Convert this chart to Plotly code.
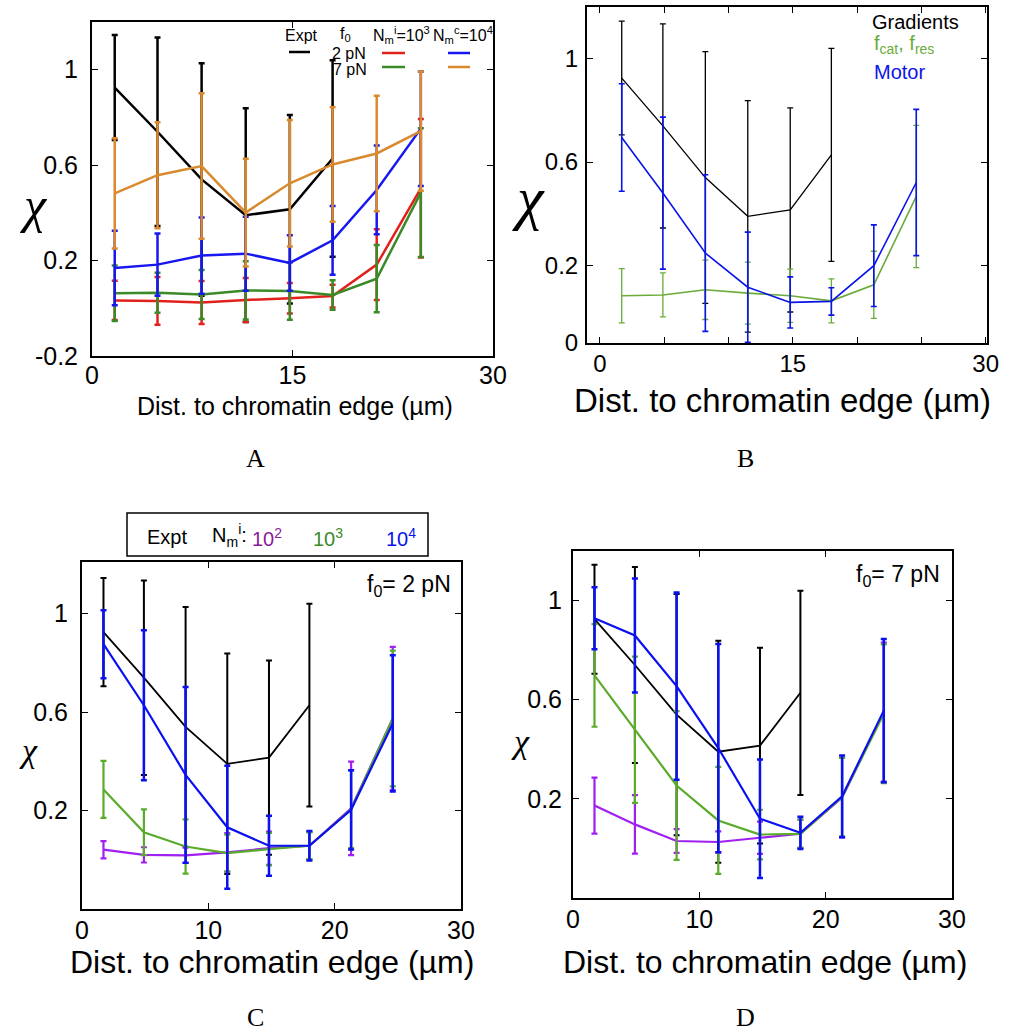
import plotly.graph_objects as go

# ---------------- data ----------------
x_pos = [1.7, 4.9, 8.2, 11.5, 14.8, 18.0, 21.3, 24.6]
x_expt = [1.7, 4.9, 8.2, 11.5, 14.8, 18.0]
expt_chi = [0.925, 0.74, 0.54, 0.39, 0.415, 0.628]
expt_err = [0.22, 0.395, 0.487, 0.448, 0.395, 0.412]

# Panel A
a_red = [0.033, 0.031, 0.024, 0.035, 0.042, 0.051, 0.183, 0.503]
a_red_err = [0.082, 0.100, 0.090, 0.092, 0.064, 0.048, 0.148, 0.290]
a_green = [0.063, 0.065, 0.058, 0.075, 0.072, 0.056, 0.124, 0.485]
a_green_err = [0.116, 0.084, 0.103, 0.122, 0.120, 0.062, 0.141, 0.270]
a_blue = [0.169, 0.183, 0.221, 0.229, 0.190, 0.285, 0.496, 0.753]
a_blue_err = [0.156, 0.130, 0.160, 0.155, 0.116, 0.144, 0.186, 0.240]
a_orange = [0.482, 0.558, 0.596, 0.401, 0.524, 0.603, 0.649, 0.743]
a_orange_err = [0.231, 0.222, 0.305, 0.226, 0.265, 0.240, 0.242, 0.250]

# Panel B
b_green = [0.083, 0.086, 0.106, 0.093, 0.083, 0.063, 0.125, 0.467]
b_green_err = [0.105, 0.085, 0.115, 0.120, 0.103, 0.085, 0.130, 0.275]
b_blue = [0.695, 0.480, 0.248, 0.116, 0.057, 0.061, 0.199, 0.521]
b_blue_err = [0.208, 0.294, 0.303, 0.213, 0.099, 0.053, 0.158, 0.283]

# Panel C (f0 = 2 pN)
c_purple = [0.041, 0.020, 0.018, 0.030, 0.047, 0.057, 0.209, 0.574]
c_purple_err = [0.035, 0.031, 0.031, 0.078, 0.068, 0.056, 0.190, 0.291]
c_green = [0.286, 0.112, 0.054, 0.027, 0.043, 0.057, 0.205, 0.574]
c_green_err = [0.116, 0.093, 0.110, 0.075, 0.066, 0.054, 0.158, 0.276]
c_blue = [0.876, 0.628, 0.345, 0.132, 0.057, 0.057, 0.203, 0.554]
c_blue_err = [0.138, 0.305, 0.357, 0.250, 0.122, 0.060, 0.161, 0.277]

# Panel D (f0 = 7 pN)
d_purple = [0.173, 0.097, 0.030, 0.026, 0.043, 0.059, 0.205, 0.550]
d_purple_err = [0.113, 0.118, 0.048, 0.043, 0.065, 0.057, 0.160, 0.280]
d_green = [0.698, 0.479, 0.254, 0.113, 0.056, 0.059, 0.207, 0.543]
d_green_err = [0.207, 0.295, 0.300, 0.216, 0.100, 0.057, 0.158, 0.280]
d_blue = [0.929, 0.859, 0.655, 0.405, 0.120, 0.063, 0.210, 0.556]
d_blue_err = [0.125, 0.230, 0.378, 0.420, 0.239, 0.065, 0.165, 0.289]

# ---------------- styling ----------------
W, H = 1014, 1032
SANS = "Liberation Sans, Arial, sans-serif"
SERIF = "Liberation Serif, Times New Roman, serif"


def px(x):
    return x / W


def py(y):
    return 1 - y / H


BLACK = "#000000"
A_RED, A_GREEN, A_BLUE, A_ORANGE = "#e3211c", "#3a8a28", "#1717f2", "#d98a2e"
B_GREEN, B_BLUE = "#6aab3a", "#0a14e8"
CD_PURPLE, CD_GREEN, CD_BLUE = "#a020f0", "#5aab2a", "#0a10f0"

fig = go.Figure()


def add(xs, ys, err, color, ax, lw, et, ew):
    fig.add_trace(go.Scatter(
        x=xs, y=ys, mode="lines", xaxis="x" + ax, yaxis="y" + ax,
        line=dict(color=color, width=lw),
        error_y=dict(type="data", array=err, color=color, thickness=et, width=ew),
        showlegend=False, hoverinfo="x+y"))


# Panel A (axis suffix "")
add(x_expt, expt_chi, expt_err, BLACK, "", 2.5, 2.5, 3)
add(x_pos, a_red, a_red_err, A_RED, "", 2.5, 2.5, 3)
add(x_pos, a_green, a_green_err, A_GREEN, "", 2.5, 2.5, 3)
add(x_pos, a_blue, a_blue_err, A_BLUE, "", 2.5, 2.5, 3)
add(x_pos, a_orange, a_orange_err, A_ORANGE, "", 2.5, 2.5, 3)

# Panel B
add(x_expt, expt_chi, expt_err, BLACK, "2", 1.3, 1.3, 3)
add(x_pos, b_green, b_green_err, B_GREEN, "2", 1.6, 1.3, 3)
add(x_pos, b_blue, b_blue_err, B_BLUE, "2", 1.6, 1.6, 3)

# Panel C
add(x_expt, expt_chi, expt_err, BLACK, "3", 1.8, 2, 3)
add(x_pos, c_purple, c_purple_err, CD_PURPLE, "3", 2.2, 2.2, 3)
add(x_pos, c_green, c_green_err, CD_GREEN, "3", 2.2, 2.2, 3)
add(x_pos, c_blue, c_blue_err, CD_BLUE, "3", 2.2, 2.5, 3)

# Panel D
add(x_expt, expt_chi, expt_err, BLACK, "4", 1.8, 2, 3)
add(x_pos, d_purple, d_purple_err, CD_PURPLE, "4", 2.2, 2.2, 3)
add(x_pos, d_green, d_green_err, CD_GREEN, "4", 2.2, 2.2, 3)
add(x_pos, d_blue, d_blue_err, CD_BLUE, "4", 2.2, 2.5, 3)

# panel boxes: left, right, top, bottom in pixels
boxes = {
    "": (92, 493, 22, 356),
    "2": (587, 987, 7, 343),
    "3": (82, 461, 562, 909),
    "4": (573, 952, 551, 898),
}


def axes(ax, xr, yr, xt, xtt, yt, ytt, fs, lw, ystand, xstand):
    l, r, t, b = boxes[ax]
    common = dict(showline=True, linecolor="black", linewidth=lw, mirror="ticks",
                  ticks="inside", ticklen=6, tickwidth=1.2, tickcolor="black",
                  showgrid=False, zeroline=False, automargin=False,
                  tickfont=dict(family=SANS, size=fs, color="black"))
    xa = dict(common, domain=[px(l), px(r)], range=xr, tickmode="array",
              tickvals=xt, ticktext=xtt, anchor="y" + ax, ticklabelstandoff=xstand)
    ya = dict(common, domain=[py(b), py(t)], range=yr, tickmode="array",
              tickvals=yt, ticktext=ytt, anchor="x" + ax, ticklabelstandoff=ystand)
    return {"xaxis" + ax: xa, "yaxis" + ax: ya}


lay = {}
lay.update(axes("", [0, 30], [-0.2, 1.2], [0, 15, 30], ["0", "15", "30"],
                [-0.2, 0.2, 0.6, 1], ["-0.2", "0.2", "0.6", "1"], 25, 2, 7, -4))
lay.update(axes("2", [-1, 30.1], [-0.1, 1.2], [0, 5, 10, 15, 20, 25, 30],
                ["0", "", "", "15", "", "", "30"],
                [-0.1, 0.2, 0.6, 1], ["0", "0.2", "0.6", "1"], 24, 2, 2, -2))
lay.update(axes("3", [0, 30], [-0.2, 1.21], [0, 10, 20, 30], ["0", "10", "20", "30"],
                [0.2, 0.6, 1], ["0.2", "0.6", "1"], 25, 2, 7, -2))
lay.update(axes("4", [0, 30], [-0.2, 1.2], [0, 10, 20, 30], ["0", "10", "20", "30"],
                [0.2, 0.6, 1], ["0.2", "0.6", "1"], 25, 2, 4, -2))

ann = []


def text(x, y, s, size, color="black", family=SANS, xanchor="center"):
    ann.append(dict(x=px(x), y=py(y), xref="paper", yref="paper", text=s,
                    showarrow=False, xanchor=xanchor, yanchor="middle",
                    font=dict(family=family, size=size, color=color)))


# axis titles
xtitle = "Dist. to chromatin edge (µm)"
text(295, 406, xtitle, 25)
text(782, 400, xtitle, 33)
text(272, 962, xtitle, 32)
text(765, 962, xtitle, 32)
text(34, 205, "<i>χ</i>", 50, family=SERIF)
text(528, 198, "<i>χ</i>", 60, family=SERIF)
text(28, 750, "<i>χ</i>", 34, family=SERIF)
text(520, 741, "<i>χ</i>", 34, family=SERIF)

# panel letters
text(255, 458, "A", 26, family=SERIF)
text(745, 458, "B", 26, family=SERIF)
text(255, 1017, "C", 26, family=SERIF)
text(745, 1017, "D", 26, family=SERIF)

# legend A
text(301, 36, "Expt", 16)
text(345, 35, "f<sub>0</sub>", 16)
text(401, 35, "N<sub>m</sub><sup>i</sup>=10<sup>3</sup>", 16)
text(463, 35, "N<sub>m</sub><sup>c</sup>=10<sup>4</sup>", 16)
text(349, 54, "2 pN", 16)
text(350, 69, "7 pN", 16)

# legend B
text(870, 22, "Gradients", 20, xanchor="left")
text(872, 45, "f<sub>cat</sub>, f<sub>res</sub>", 20, color=B_GREEN, xanchor="left")
text(872, 72, "Motor", 20, color=B_BLUE, xanchor="left")

# legend C
text(167, 537, "Expt", 20)
text(229, 535, "N<sub>m</sub><sup>i</sup>:", 20)
text(267, 537, "10<sup>2</sup>", 20, color="#8a1a9a")
text(328, 537, "10<sup>3</sup>", 20, color="#3a8a28")
text(401, 537, "10<sup>4</sup>", 20, color=CD_BLUE)

text(453, 585, "f<sub>0</sub>= 2 pN", 23, xanchor="right")
text(942, 575, "f<sub>0</sub>= 7 pN", 23, xanchor="right")

shapes = []


def seg(x0, x1, y, color):
    shapes.append(dict(type="line", xref="paper", yref="paper",
                       x0=px(x0), x1=px(x1), y0=py(y), y1=py(y),
                       line=dict(color=color, width=2.5)))


seg(289, 310, 52, BLACK)
seg(382, 405, 53, A_RED)
seg(448, 470, 53, A_BLUE)
seg(382, 405, 67, A_GREEN)
seg(448, 470, 67, A_ORANGE)

shapes.append(dict(type="rect", xref="paper", yref="paper",
                   x0=px(127), x1=px(428), y0=py(513), y1=py(556),
                   line=dict(color="black", width=1.5)))

fig.update_layout(
    width=W, height=H, margin=dict(l=0, r=0, t=0, b=0),
    paper_bgcolor="white", plot_bgcolor="white",
    annotations=ann, shapes=shapes, showlegend=False, **lay)

fig.write_html("out.html", config={"displayModeBar": False},
               post_script="document.body.style.margin='0';"
                           "document.body.style.overflow='hidden';")
